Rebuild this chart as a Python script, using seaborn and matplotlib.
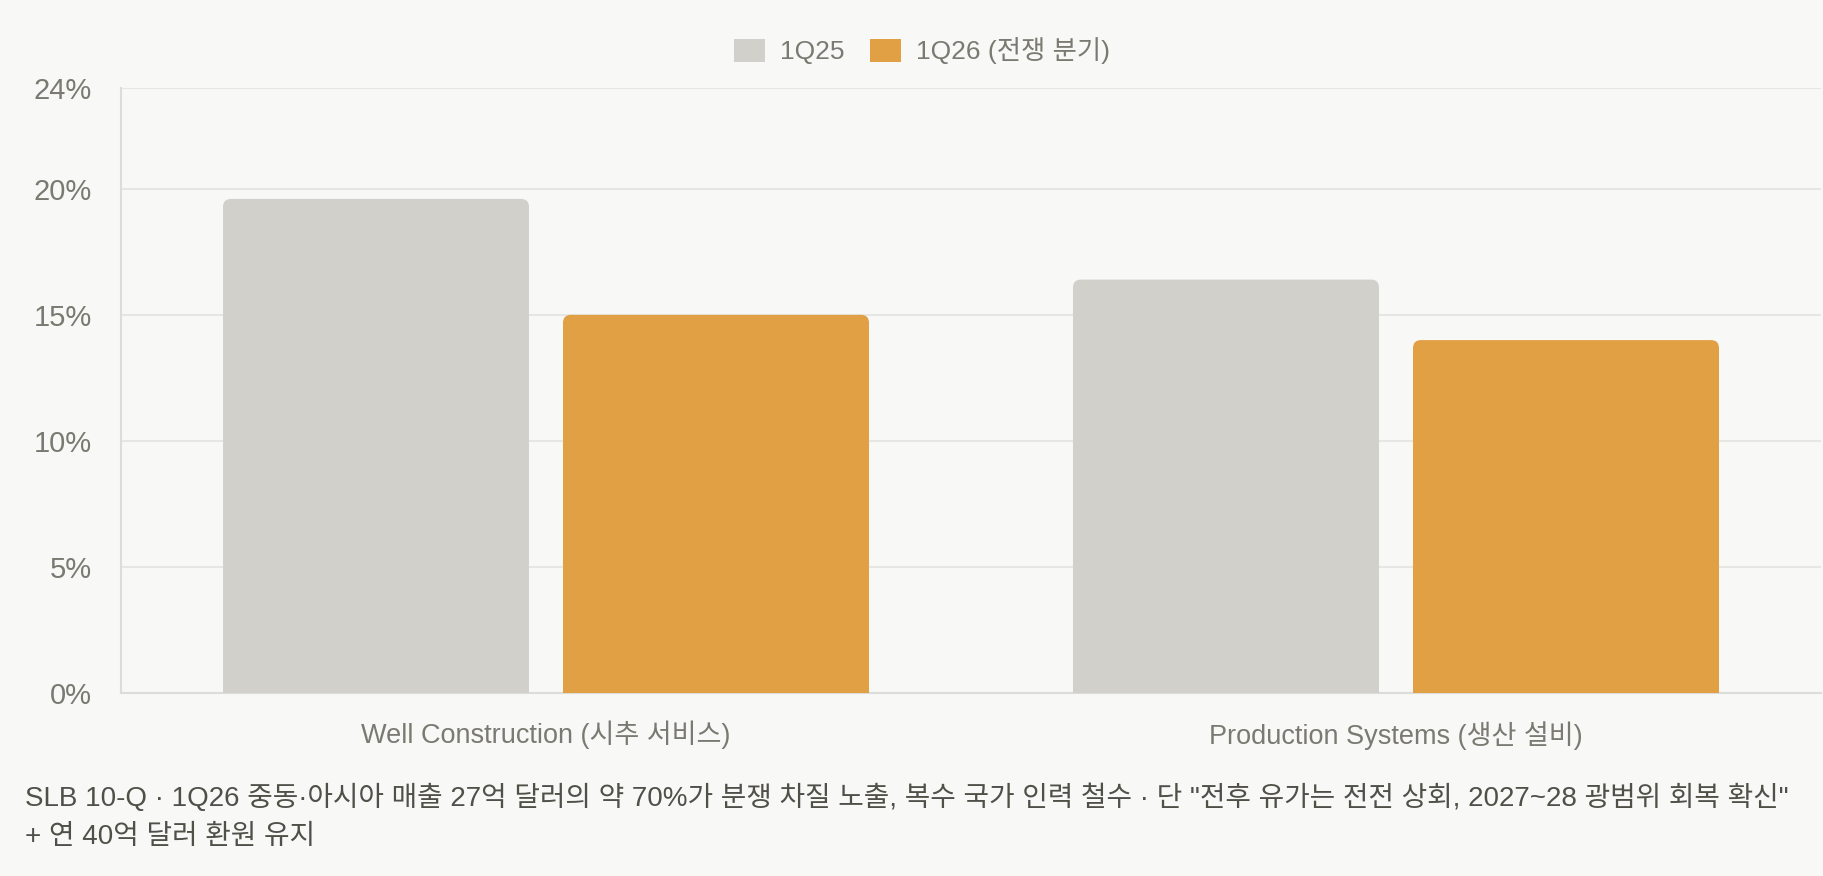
import numpy as np
import pandas as pd
import seaborn as sns
from matplotlib import pyplot as plt
from matplotlib.patches import FancyBboxPatch, Patch

# data
segments = ['Well Construction (시추 서비스)', 'Production Systems (생산 설비)']
quarters = ['1Q25', '1Q26 (전쟁 분기)']
margin_1q25 = [19.6, 16.4]
margin_1q26 = [15.0, 14.0]
y_ticks = [0, 5, 10, 15, 20, 24]
caption = ('SLB 10-Q · 1Q26 중동·아시아 매출 27억 달러의 약 70%가 분쟁 차질 노출, 복수 국가 인력 철수 · '
           '단 "전후 유가는 전전 상회, 2027~28 광범위 회복 확신"\n+ 연 40억 달러 환원 유지')

bg = '#f8f8f6'
colors = ['#d1d0cb', '#e2a045']
text_col = '#7a7a72'
grid_col = '#e6e6e3'

df = pd.DataFrame({
    'segment': segments * 2,
    'quarter': [quarters[0]] * 2 + [quarters[1]] * 2,
    'margin': margin_1q25 + margin_1q26,
})

sns.set_theme(style='white')
plt.rcParams['font.family'] = ['Liberation Sans', 'Noto Sans CJK KR', 'DejaVu Sans']

fig = plt.figure(figsize=(18.24, 8.76), dpi=100, facecolor=bg)
ax = fig.add_axes([121 / 1824, 1 - 693 / 876, (1821 - 121) / 1824, (693 - 88) / 876])
ax.set_facecolor(bg)

sns.barplot(data=df, x='segment', y='margin', hue='quarter', palette=colors,
            width=0.8, gap=0.1, saturation=1, ax=ax, legend=False, zorder=3)

# rounded tops: swap each bar for a rounded box that dips below 0 (clipped)
rx = 8 / 850
ry = 8 / 25.2
for bar in list(ax.patches):
    x0, w, h = bar.get_x(), bar.get_width(), bar.get_height()
    fc = bar.get_facecolor()
    bar.remove()
    ax.add_patch(FancyBboxPatch((x0, -1), w, h + 1,
                                boxstyle=f'round,pad=0,rounding_size={rx}',
                                mutation_aspect=ry / rx, fc=fc, ec='none',
                                zorder=3, clip_on=True))

ax.set_xlim(-0.5, 1.5)
ax.set_ylim(0, 24)
ax.set_yticks(y_ticks)
ax.set_yticklabels([f'{t}%' for t in y_ticks])
ax.set_xlabel('')
ax.set_ylabel('')
ax.grid(axis='y', color=grid_col, lw=1.5, zorder=0)

for s in ['top', 'right']:
    ax.spines[s].set_visible(False)
for s in ['left', 'bottom']:
    ax.spines[s].set_color('#dcdcd8')
    ax.spines[s].set_linewidth(1.5)

ax.tick_params(axis='y', length=13, width=1.5, color=grid_col, pad=8,
               labelsize=21, labelcolor=text_col)
ax.tick_params(axis='x', length=0, pad=20, labelsize=19.5, labelcolor=text_col)

handles = [Patch(fc=c, ec='none') for c in colors]
fig.legend(handles, quarters, loc='center', bbox_to_anchor=(0.5055, 1 - 51 / 876),
           ncol=2, frameon=False, fontsize=19, labelcolor=text_col,
           handlelength=1.17, handleheight=0.98, handletextpad=0.57,
           columnspacing=0.98)

fig.text(25 / 1824, 1 - 817 / 876, caption, fontsize=20, color='#505049',
         va='center', ha='left', linespacing=1.62)

plt.savefig('out.png', dpi=100, facecolor=bg)
